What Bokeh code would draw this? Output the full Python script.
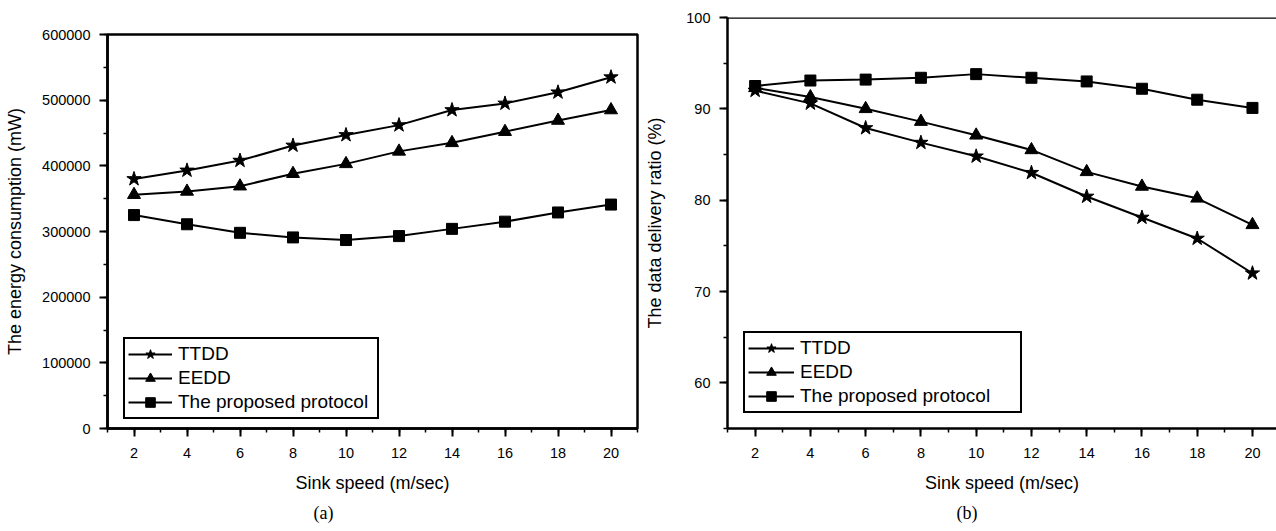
from bokeh.plotting import figure
from bokeh.layouts import row, column
from bokeh.models import (Range1d, SingleIntervalTicker, BasicTickFormatter, Legend,
                          LegendItem, Span, Title)
from bokeh.embed import file_html
from bokeh.resources import INLINE

# ---- data ----
speed = [2, 4, 6, 8, 10, 12, 14, 16, 18, 20]
series_names = ["TTDD", "EEDD", "The proposed protocol"]
energy_ttdd = [380000, 393000, 408000, 431000, 447000, 462000, 485000, 495000, 512000, 535000]
energy_eedd = [356000, 361000, 369000, 388000, 403000, 422000, 435000, 452000, 469000, 485000]
energy_prop = [325000, 311000, 298000, 291000, 287000, 293000, 304000, 315000, 329000, 341000]
ratio_ttdd = [92.0, 90.6, 87.9, 86.3, 84.8, 83.0, 80.4, 78.1, 75.8, 72.0]
ratio_eedd = [92.3, 91.3, 90.0, 88.6, 87.1, 85.5, 83.1, 81.5, 80.2, 77.3]
ratio_prop = [92.5, 93.1, 93.2, 93.4, 93.8, 93.4, 93.0, 92.2, 91.0, 90.1]

FONT = "Liberation Sans"


def make(width, height, xr, yr, yint, ylabel, bl, bt, bb, br, outline, ylab_standoff):
    p = figure(width=width, height=height, x_range=Range1d(*xr), y_range=Range1d(*yr),
               output_backend="svg", toolbar_location=None,
               min_border_left=bl, min_border_top=bt, min_border_bottom=bb,
               min_border_right=br)
    p.xgrid.visible = False
    p.ygrid.visible = False
    p.xaxis.ticker = SingleIntervalTicker(interval=2, num_minor_ticks=2)
    p.yaxis.ticker = SingleIntervalTicker(interval=yint, num_minor_ticks=2)
    p.yaxis.formatter = BasicTickFormatter(use_scientific=False)
    p.axis.axis_line_width = 2.5
    p.axis.axis_line_color = "black"
    p.axis.axis_line_alpha = 1
    p.axis.major_tick_line_color = "black"
    p.axis.minor_tick_line_color = "black"
    p.axis.major_tick_line_width = 2
    p.axis.minor_tick_line_width = 1.5
    p.axis.major_tick_in = 0
    p.axis.major_tick_out = 8
    p.axis.minor_tick_in = 0
    p.axis.minor_tick_out = 4
    p.axis.major_label_text_font = FONT
    p.axis.major_label_text_font_size = "14.5px"
    p.axis.major_label_text_color = "black"
    p.axis.axis_label_text_font = FONT
    p.axis.axis_label_text_font_size = "18px"
    p.axis.axis_label_text_font_style = "normal"
    p.axis.axis_label_text_color = "black"
    p.xaxis.axis_label = "Sink speed (m/sec)"
    p.yaxis.axis_label = ylabel
    p.xaxis.major_label_standoff = 11
    p.yaxis.major_label_standoff = 9
    p.xaxis.axis_label_standoff = 12
    p.yaxis.axis_label_standoff = ylab_standoff
    if outline:
        p.outline_line_color = "black"
        p.outline_line_width = 2.5
        p.outline_line_alpha = 1
    else:
        p.outline_line_color = None
    p.background_fill_color = "white"
    p.border_fill_color = "white"
    return p


def add_series(p, ys, label_w, glyph_w, loc):
    items = []
    for name, y, marker, size in zip(series_names, ys, ["star", "triangle", "square"], [15, 13, 11]):
        r1 = p.line(speed, y, line_color="black", line_width=2)
        r2 = p.scatter(speed, y, marker=marker, size=size, fill_color="black", line_color="black")
        items.append(LegendItem(label=name, renderers=[r1, r2]))
    leg = Legend(items=items, location=loc, glyph_width=glyph_w, glyph_height=24,
                 label_height=24, spacing=0, padding=3, margin=0, label_standoff=6,
                 label_width=label_w,
                 label_text_font=FONT, label_text_font_size="19px", label_text_color="black",
                 border_line_color="black", border_line_width=2, border_line_alpha=1,
                 background_fill_color="white", background_fill_alpha=1)
    p.add_layout(leg, "center")


# (a) energy consumption
pa = make(640, 528, (1, 21), (0, 600000), 100000, "The energy consumption (mW)",
          107, 34, 98, 3, True, 14)
add_series(pa, [energy_ttdd, energy_eedd, energy_prop], 196, 44, (16, 9))
pa.add_layout(Title(text="(a)", align="left", offset=206, text_font="Liberation Serif",
                    text_font_size="18px", text_font_style="normal", text_color="black",
                    standoff=11), "below")

# (b) data delivery ratio
pb = make(636, 528, (1, 20.87), (55, 100), 10, "The data delivery ratio (%)",
          87, 17, 97, 0, False, 18)
add_series(pb, [ratio_ttdd, ratio_eedd, ratio_prop], 217, 46, (16, 15))
pb.add_layout(Span(location=100, dimension="width", line_color="black", line_width=2.5))
pb.add_layout(Title(text="(b)", align="left", offset=229, text_font="Liberation Serif",
                    text_font_size="18px", text_font_style="normal", text_color="black",
                    standoff=11), "below")

layout = row(column(pa), column(pb))
open("out.html", "w").write(file_html(layout, INLINE))
